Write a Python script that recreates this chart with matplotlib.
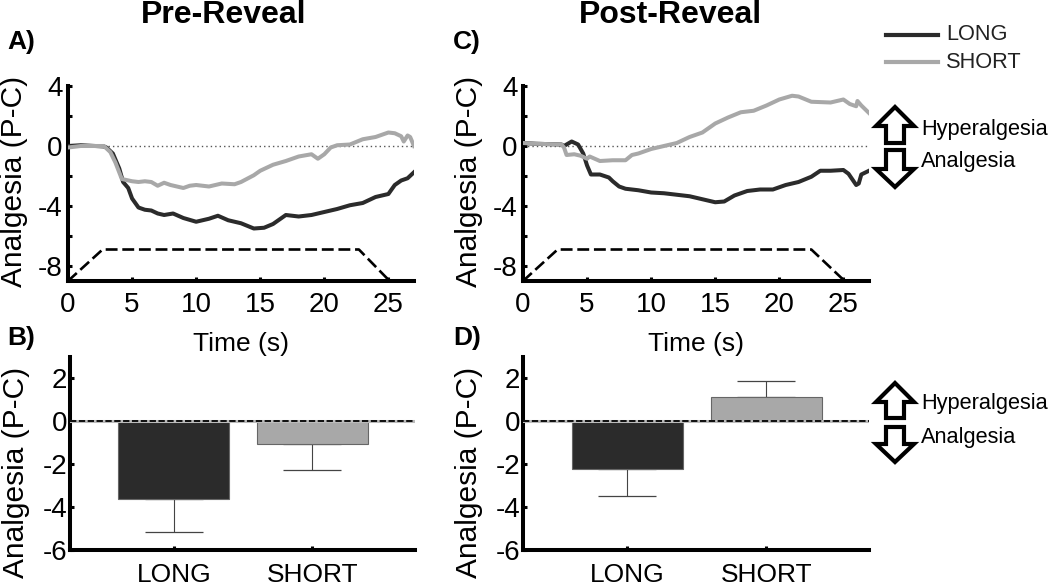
import matplotlib
matplotlib.use("Agg")
import matplotlib.pyplot as plt
from matplotlib.patches import Polygon
from matplotlib.lines import Line2D
from matplotlib.transforms import Affine2D

plt.rcParams['font.family'] = ['Liberation Sans', 'DejaVu Sans']
plt.rcParams['axes.unicode_minus'] = False

W, H = 1050, 585
DARK, GREY = '#2b2b2b', '#a8a8a8'

a_long_t = [0, 1, 2.8, 3, 3.5, 4, 4.3, 4.7, 5, 5.5, 6, 6.5, 7, 7.5, 8.2, 9, 10, 11, 11.7, 12.5, 13.5, 14.5, 15.3, 16, 17, 18, 19, 20, 21, 22, 23, 24, 25, 25.5, 26, 26.5, 27]
a_long_v = [0, 0.05, -0.03, -0.1, -0.5, -1.5, -2.4, -2.8, -3.5, -4.1, -4.25, -4.3, -4.5, -4.6, -4.5, -4.8, -5.05, -4.85, -4.65, -4.95, -5.15, -5.5, -5.45, -5.2, -4.6, -4.7, -4.6, -4.4, -4.2, -3.95, -3.8, -3.4, -3.2, -2.6, -2.3, -2.15, -1.75]
a_short_t = [0, 0.5, 1, 2, 2.8, 3.3, 3.7, 4.2, 5, 5.5, 6, 6.5, 7, 7.5, 8, 9, 9.5, 10, 11, 12, 13, 13.5, 14.5, 15, 16, 17, 18, 19, 19.5, 20, 20.5, 21, 22, 23, 24, 25, 25.5, 26, 26.2, 26.5, 26.7, 27]
a_short_v = [-0.1, -0.05, 0, 0, 0, -0.4, -1.1, -2.2, -2.35, -2.4, -2.35, -2.4, -2.65, -2.45, -2.6, -2.8, -2.65, -2.6, -2.7, -2.5, -2.55, -2.4, -1.95, -1.65, -1.25, -1.0, -0.7, -0.55, -0.85, -0.55, -0.1, 0.05, 0.1, 0.45, 0.6, 0.9, 0.85, 0.65, 0.3, 0.7, 0.6, 0]
c_long_t = [0, 1, 3, 3.2, 3.8, 4.3, 4.7, 5, 5.3, 6, 6.7, 7, 7.5, 8, 9, 10, 11, 12, 13, 14, 15, 15.7, 16.5, 17.5, 18.5, 19.5, 20.5, 21.5, 22.5, 23.2, 24, 25, 25.4, 26, 26.2, 26.4, 27]
c_long_v = [0.2, 0.15, 0.1, 0, 0.3, 0.1, -0.5, -1.3, -1.9, -1.9, -2.1, -2.35, -2.7, -2.85, -2.95, -3.1, -3.15, -3.25, -3.35, -3.55, -3.75, -3.7, -3.3, -3.0, -2.9, -2.9, -2.6, -2.4, -2.05, -1.65, -1.65, -1.6, -1.85, -2.6, -2.5, -1.9, -1.65]
c_short_t = [0, 1, 3, 3.2, 3.4, 4, 4.5, 5, 5.2, 6, 7, 8, 8.5, 9, 10, 11, 12, 13, 14, 15, 16, 17, 18, 19, 20, 21, 21.5, 22.5, 24, 25, 25.5, 26, 26.1, 26.4, 27]
c_short_v = [0.2, 0.15, 0.1, -0.1, -0.6, -0.55, -0.65, -0.85, -0.7, -1.0, -0.95, -0.95, -0.6, -0.5, -0.2, 0, 0.2, 0.6, 0.9, 1.5, 1.9, 2.25, 2.35, 2.7, 3.1, 3.35, 3.3, 2.95, 2.9, 3.1, 2.8, 2.65, 3.0, 2.7, 2.2]
stim_a_t = [0, 2.7, 22.7, 25.1]
stim_c_t = [0, 2.7, 22.5, 25.1]
stim_v = [-9, -6.9, -6.9, -9]

categories = ['LONG', 'SHORT']
b_vals = [-3.6, -1.07]
b_errs = [1.55, 1.18]
d_vals = [-2.2, 1.15]
d_errs = [1.3, 0.75]

fig = plt.figure(figsize=(W / 100, H / 100), dpi=100)
px = Affine2D().scale(1 / W, -1 / H).translate(0, 1) + fig.transFigure

def make_axes(l, t, r, b):
    ax = fig.add_axes([l / W, 1 - b / H, (r - l) / W, (b - t) / H])
    ax.patch.set_alpha(0)
    for s in ('top', 'right'):
        ax.spines[s].set_visible(False)
    for s in ('left', 'bottom'):
        ax.spines[s].set_linewidth(2.9)
    ax.tick_params(direction='in', length=3, width=2.2, labelsize=20, pad=4)
    ax.set_ylabel('Analgesia (P-C)', fontsize=21.5, labelpad=0)
    return ax

def line_panel(box, lt, lv, st, sv, stim_t):
    ax = make_axes(*box)
    ax.axhline(0, color='#555555', lw=1, ls=(0, (1, 2.2)), zorder=1)
    ax.plot(stim_t, stim_v, color='black', lw=1.9, ls=(0, (4.5, 1.8)), zorder=2)
    ax.plot(lt, lv, color=DARK, lw=2.9, zorder=3)
    ax.plot(st, sv, color=GREY, lw=2.9, zorder=4)
    ax.set_xlim(0, 27)
    ax.set_ylim(-9, 4)
    ax.set_xticks([0, 5, 10, 15, 20, 25])
    ax.set_yticks([4, 2, 0, -2, -4, -6, -8])
    ax.set_yticklabels(['4', '', '0', '', '-4', '', '-8'])
    ax.tick_params(axis='x', pad=8)
    ax.set_xlabel('Time (s)', fontsize=19, labelpad=10)
    ax.yaxis.set_label_coords(-40 / (box[2] - box[0]), 0.51)
    return ax

def bar_panel(box, vals, errs):
    ax = make_axes(*box)
    xs = [1, 2]
    ax.bar(xs, vals, width=0.8, color=[DARK, GREY], edgecolor='#666666', linewidth=0.8, zorder=2)
    for x, v, e in zip(xs, vals, errs):
        lo, hi = (e, 0) if v < 0 else (0, e)
        ax.errorbar(x, v, yerr=[[lo], [hi]], color='#444444', lw=0.8, capsize=21, capthick=0.9, zorder=1)
    ax.axhline(0, color='#bbbbbb', lw=2.2, zorder=3)
    ax.axhline(0, color='black', lw=1.3, ls=(0, (3.5, 1.4)), zorder=4)
    ax.set_xlim(0.25, 2.74)
    ax.set_ylim(-6, 3)
    ax.set_xticks(xs)
    ax.set_xticklabels(categories, fontsize=19)
    ax.set_yticks([2, 0, -2, -4, -6])
    ax.tick_params(axis='x', pad=9)
    ax.tick_params(axis='y', pad=2)
    ax.yaxis.set_label_coords(-40 / (box[2] - box[0]), 0.40)
    return ax

line_panel((68, 86, 414, 281), a_long_t, a_long_v, a_short_t, a_short_v, stim_a_t)
line_panel((523, 86, 869, 281), c_long_t, c_long_v, c_short_t, c_short_v, stim_c_t)
bar_panel((70, 357, 415, 550), b_vals, b_errs)
bar_panel((523, 357, 869, 550), d_vals, d_errs)

def ftext(x, y, s, **kw):
    fig.text(x, y, s, transform=px, **kw)

ftext(224, 15, 'Pre-Reveal', fontsize=23, fontweight='bold', ha='center', va='center')
ftext(670, 15, 'Post-Reveal', fontsize=23, fontweight='bold', ha='center', va='center')
for x, y, s in [(7, 42, 'A)'), (7, 338, 'B)'), (453, 42, 'C)'), (453, 338, 'D)')]:
    ftext(x, y, s, fontsize=19, fontweight='bold', ha='left', va='center')

legend_items = [(35, DARK, 'LONG'), (62, GREY, 'SHORT')]
for y, c, s in legend_items:
    fig.add_artist(Line2D([886, 938], [y, y], color=c, lw=3, transform=px))
    ftext(946, y, s, fontsize=15.7, ha='left', va='center', color='#222222')

def block_arrow(cx, tip, head, tail, half_head=19, half_shaft=9):
    pts = [(cx, tip), (cx + half_head, head), (cx + half_shaft, head), (cx + half_shaft, tail),
           (cx - half_shaft, tail), (cx - half_shaft, head), (cx - half_head, head)]
    fig.add_artist(Polygon(pts, closed=True, facecolor='white', edgecolor='black', lw=3, transform=px, joinstyle='miter'))

for tip, head, tail in [(107, 126, 143), (187, 169, 150), (383, 402, 418), (462, 444, 427)]:
    block_arrow(895, tip, head, tail)
for y, s in [(130, 'Hyperalgesia'), (161, 'Analgesia'), (404, 'Hyperalgesia'), (437, 'Analgesia')]:
    ftext(921, y, s, fontsize=15.7, ha='left', va='center')

fig.savefig('out.png', dpi=100)
